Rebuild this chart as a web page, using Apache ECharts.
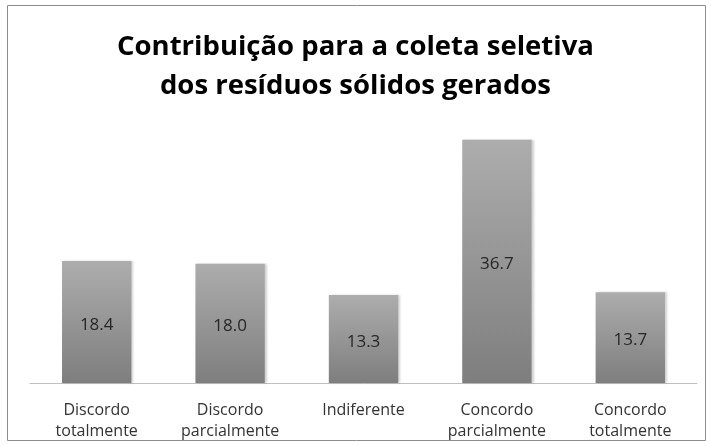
<!DOCTYPE html>
<html>
<head>
<meta charset="utf-8">
<script src="https://cdn.jsdelivr.net/npm/echarts@6/dist/echarts.min.js"></script>
<style>
  html, body { margin: 0; padding: 0; background: #fff; }
  #chart { width: 711px; height: 446px; }
</style>
</head>
<body>
<div id="chart"></div>
<script>
// dados
const categorias = ['Discordo\ntotalmente', 'Discordo\nparcialmente', 'Indiferente', 'Concordo\nparcialmente', 'Concordo\ntotalmente']
const valores = [18.4, 18.0, 13.3, 36.7, 13.7]

let chart = echarts.init(document.getElementById('chart'))

let option = {
  animation: false,
  title: {
    text: 'Contribuição para a coleta seletiva\ndos resíduos sólidos gerados',
    left: 'center',
    top: 23,
    textStyle: {
      fontFamily: 'Open Sans',
      fontSize: 27.5,
      fontWeight: 'bold',
      color: '#000',
      lineHeight: 39
    }
  },
  graphic: [{
    type: 'rect',
    shape: { x: 7.5, y: 5.5, width: 698, height: 435 },
    style: { fill: 'none', stroke: '#8c8c8c', lineWidth: 1 },
    z: 100
  }],
  grid: {
    left: 30,
    right: 14,
    top: 118,
    bottom: 63
  },
  xAxis: {
    type: 'category',
    data: categorias,
    axisLine: { lineStyle: { color: '#bfbfbf', width: 1 } },
    axisTick: { show: false },
    axisLabel: {
      color: '#333',
      fontFamily: 'Open Sans',
      fontSize: 16,
      lineHeight: 21,
      margin: 17,
      interval: 0
    }
  },
  yAxis: {
    type: 'value',
    min: 0,
    max: 40,
    show: false,
    splitLine: { show: false }
  },
  series: [{
    type: 'bar',
    data: valores,
    barWidth: '52%',
    itemStyle: {
      color: new echarts.graphic.LinearGradient(0, 0, 0, 1, [
        { offset: 0, color: '#adadad' },
        { offset: 1, color: '#7e7e7e' }
      ]),
      shadowColor: 'rgba(0,0,0,0.18)',
      shadowBlur: 2,
      shadowOffsetX: 2
    },
    label: {
      show: true,
      position: 'inside',
      offset: [0, 3],
      color: '#262626',
      fontFamily: 'Open Sans',
      fontSize: 17,
      formatter: p => p.value.toFixed(1)
    }
  }]
}

chart.setOption(option)
window.addEventListener('resize', () => { chart.resize() })
</script>
</body>
</html>
